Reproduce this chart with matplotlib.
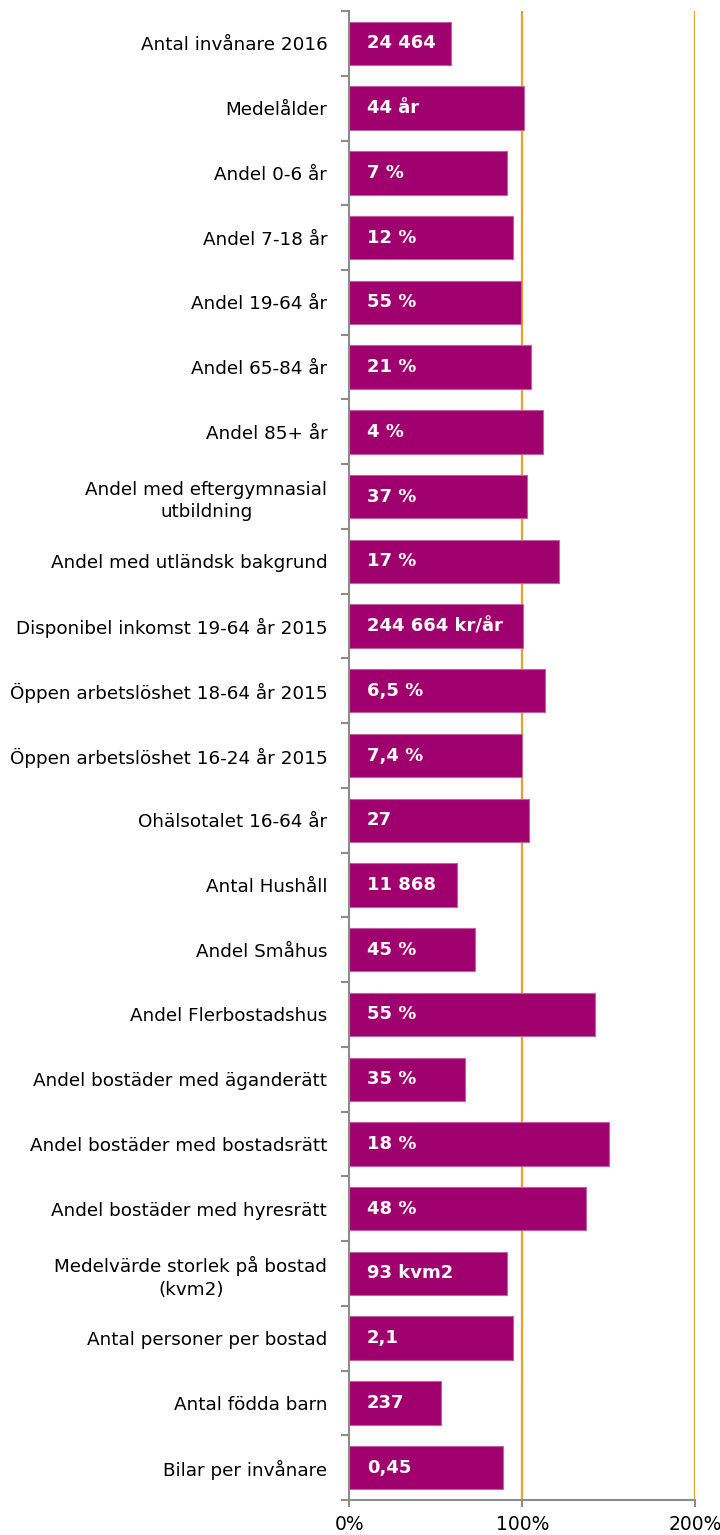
import matplotlib
matplotlib.use("Agg")
import matplotlib.pyplot as plt
import numpy as np

categories = [
    "Antal invånare 2016",
    "Medelålder",
    "Andel 0-6 år",
    "Andel 7-18 år",
    "Andel 19-64 år",
    "Andel 65-84 år",
    "Andel 85+ år",
    "Andel med eftergymnasial\nutbildning",
    "Andel med utländsk bakgrund",
    "Disponibel inkomst 19-64 år 2015",
    "Öppen arbetslöshet 18-64 år 2015",
    "Öppen arbetslöshet 16-24 år 2015",
    "Ohälsotalet 16-64 år",
    "Antal Hushåll",
    "Andel Småhus",
    "Andel Flerbostadshus",
    "Andel bostäder med äganderätt",
    "Andel bostäder med bostadsrätt",
    "Andel bostäder med hyresrätt",
    "Medelvärde storlek på bostad\n(kvm2)",
    "Antal personer per bostad",
    "Antal födda barn",
    "Bilar per invånare",
]

# index relative to comparison (1.0 = 100%)
index_values = [0.587, 1.008, 0.911, 0.946, 0.992, 1.050, 1.120, 1.027, 1.213,
                1.002, 1.129, 0.996, 1.039, 0.622, 0.726, 1.421, 0.670, 1.500,
                1.369, 0.911, 0.946, 0.530, 0.890]

value_labels = ["24 464", "44 år", "7 %", "12 %", "55 %", "21 %", "4 %", "37 %",
                "17 %", "244 664 kr/år", "6,5 %", "7,4 %", "27", "11 868", "45 %",
                "55 %", "35 %", "18 %", "48 %", "93 kvm2", "2,1", "237", "0,45"]

x_ticks = [0, 1, 2]
x_tick_labels = ["0%", "100%", "200%"]

bar_color = "#A0006E"
ref_color = "#E8A030"
axis_color = "#8C8C8C"

fig = plt.figure(figsize=(7.2, 15.35), dpi=100)
ax = fig.add_axes([0.4854, 0.0228, 0.48, 0.97])

n = len(categories)
y = np.arange(n)

for xv in x_ticks[1:]:
    ax.axvline(xv, color=ref_color, lw=1.6, zorder=1)

ax.barh(y, index_values, height=0.67, color=bar_color, edgecolor="#C4609F",
        linewidth=0.8, zorder=2)

for yi, lab in zip(y, value_labels):
    ax.text(0.1, yi, lab, color="white", fontweight="bold", fontsize=13,
            va="center", ha="left", zorder=3)

ax.set_ylim(n - 0.5, -0.5)
ax.set_xlim(0, 2)

ax.set_yticks(y)
ax.set_yticklabels(categories, fontsize=13.2, color="black", ha="right",
                   multialignment="center", linespacing=1.35)
ax.tick_params(axis="y", which="major", length=0, pad=16)
ax.set_yticks(np.arange(-0.5, n, 1), minor=True)
ax.tick_params(axis="y", which="minor", length=6, width=1.5, color=axis_color)

ax.set_xticks(x_ticks)
ax.set_xticklabels(x_tick_labels, fontsize=13.5)
ax.tick_params(axis="x", length=5, width=1.5, color=axis_color, pad=6)

for side in ["top", "right"]:
    ax.spines[side].set_visible(False)
for side in ["left", "bottom"]:
    ax.spines[side].set_color(axis_color)
    ax.spines[side].set_linewidth(1.5)

fig.savefig("out.png", dpi=100)
